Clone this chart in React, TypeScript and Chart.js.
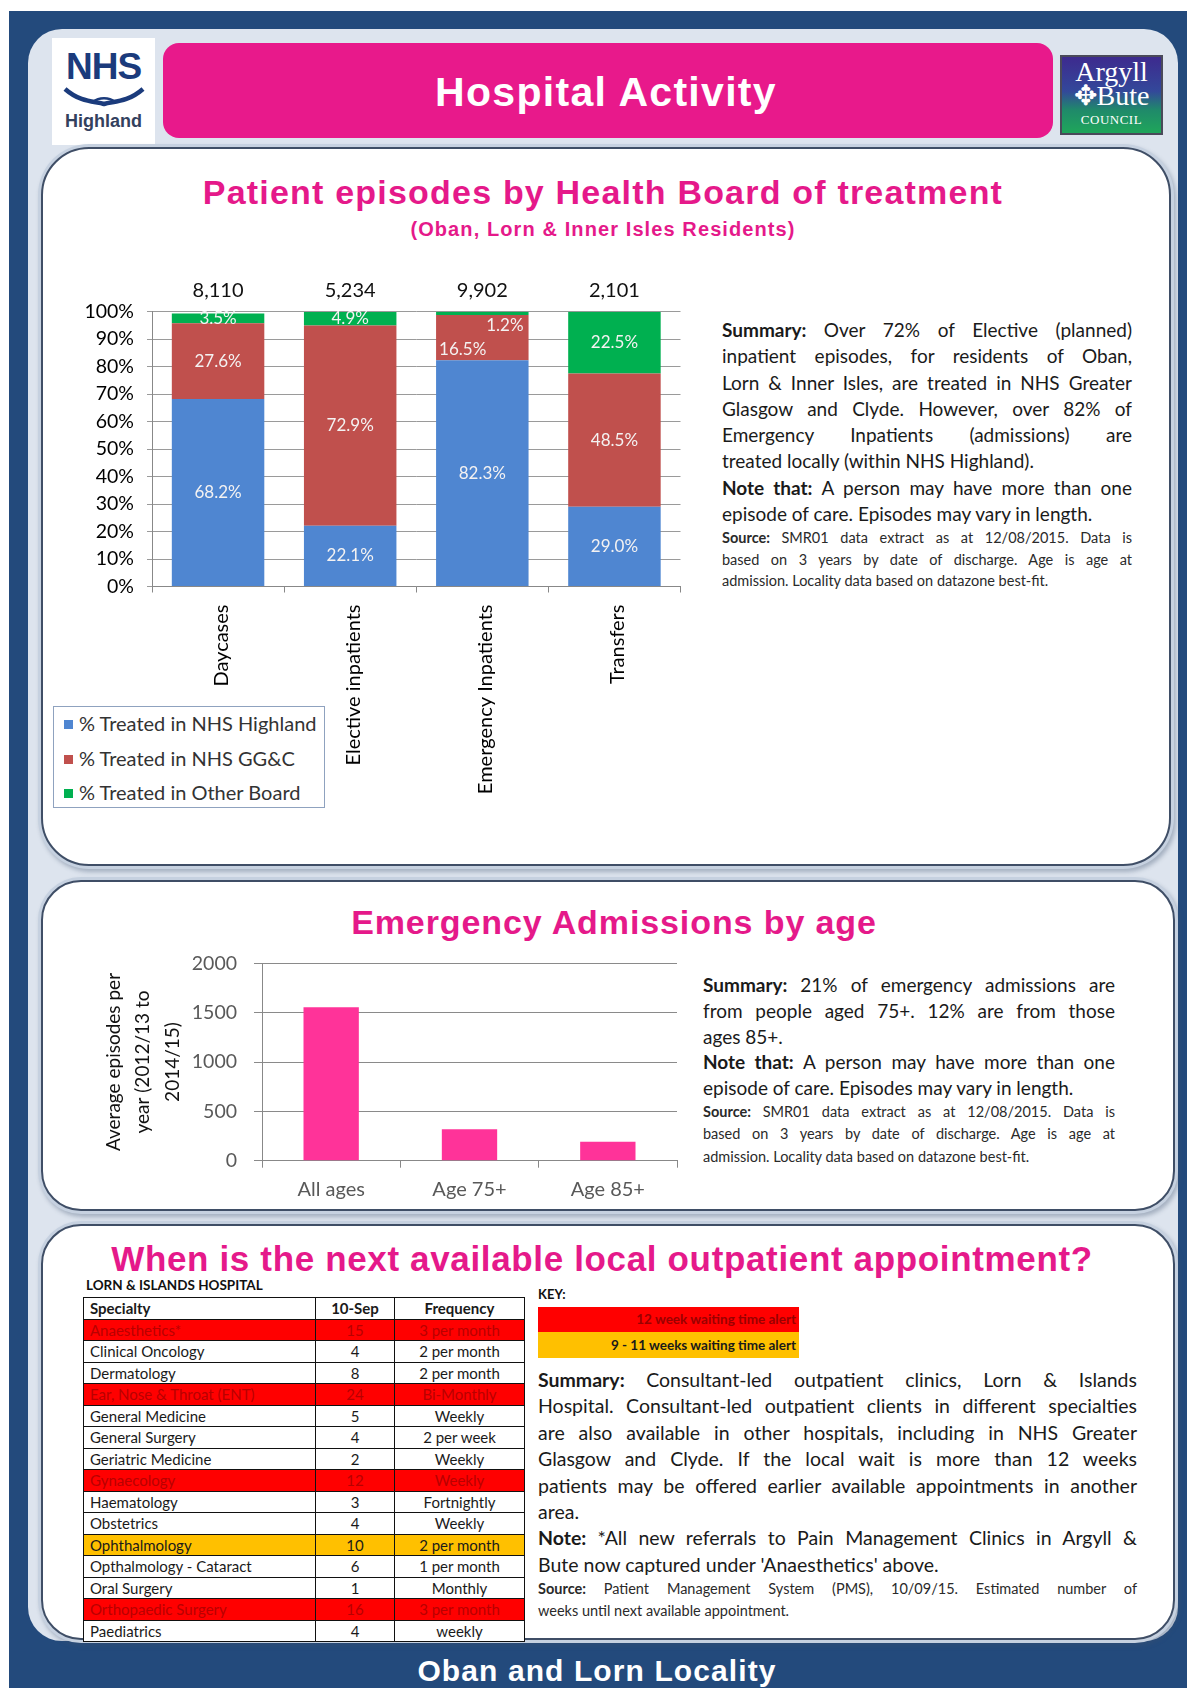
import React, { useEffect, useRef } from "react";
import { Chart, registerables } from "chart.js";

Chart.register(...registerables);

// ---------------- Data ----------------
const episodeCategories = ["Daycases", "Elective inpatients", "Emergency Inpatients", "Transfers"];
const episodeTotals = ["8,110", "5,234", "9,902", "2,101"];
const pctHighland = [68.2, 22.1, 82.3, 29.0];
const pctGGC = [27.6, 72.9, 16.5, 48.5];
const pctOtherBoard = [3.5, 4.9, 1.2, 22.5];
const episodeSeriesNames = ["% Treated in NHS Highland", "% Treated in NHS GG&C", "% Treated in Other Board"];
const pctTickStep = 10;

const ageCategories = ["All ages", "Age 75+", "Age 85+"];
const ageEpisodes = [1555, 318, 193];
const ageAxisTitle = ["Average episodes per", "year (2012/13 to", "2014/15)"];
const ageTickStep = 500;

const specialties = [
  "Anaesthetics*",
  "Clinical Oncology",
  "Dermatology",
  "Ear, Nose & Throat (ENT)",
  "General Medicine",
  "General Surgery",
  "Geriatric Medicine",
  "Gynaecology",
  "Haematology",
  "Obstetrics",
  "Ophthalmology",
  "Opthalmology - Cataract",
  "Oral Surgery",
  "Orthopaedic Surgery",
  "Paediatrics",
];
const weeksAt10Sep = [15, 4, 8, 24, 5, 4, 2, 12, 3, 4, 10, 6, 1, 16, 4];
const clinicFrequency = [
  "3 per month",
  "2 per month",
  "2 per month",
  "Bi-Monthly",
  "Weekly",
  "2 per week",
  "Weekly",
  "Weekly",
  "Fortnightly",
  "Weekly",
  "2 per month",
  "1 per month",
  "Monthly",
  "3 per month",
  "weekly",
];

// ---------------- Styles ----------------
const BODY = "Lato, 'Open Sans', 'DejaVu Sans', sans-serif";
const HEAD = "'Liberation Sans', Arial, Helvetica, sans-serif";
const SERIF = "'Liberation Serif', 'DejaVu Serif', serif";
const PINK = "#E5198A";
const NAVY = "#234A7C";
const BLUE = "#4F86D1";
const RED = "#C0504D";
const GREEN = "#00B050";
const BAR_PINK = "#FF3399";

const segmentLabelPlugin = {
  id: "segmentLabels",
  afterDatasetsDraw(chart: any) {
    const ctx = chart.ctx;
    ctx.save();
    ctx.font = `17px ${BODY}`;
    ctx.fillStyle = "#F4F2F2";
    ctx.textBaseline = "middle";
    const n = chart.data.datasets.length;
    chart.data.datasets.forEach((ds: any, di: number) => {
      const meta = chart.getDatasetMeta(di);
      meta.data.forEach((el: any, i: number) => {
        const v = ds.data[i];
        const { x, y, base, width } = el.getProps(["x", "y", "base", "width"], true);
        const h = Math.abs(base - y);
        let tx = x;
        let ty = (y + base) / 2;
        let align = "center";
        const next = di + 1 < n ? chart.data.datasets[di + 1].data[i] : null;
        if (h < 8) {
          align = "right";
          tx = x + width / 2 - 5;
          ty = base + 11;
        } else if (next != null && next < 2) {
          align = "left";
          tx = x - width / 2 + 3;
          ty += 12;
        }
        ctx.textAlign = align;
        ctx.fillText(v.toFixed(1) + "%", tx, ty);
      });
    });
    ctx.restore();
  },
};

const totalsPlugin = {
  id: "totals",
  afterDraw(chart: any) {
    const ctx = chart.ctx;
    const meta = chart.getDatasetMeta(0);
    ctx.save();
    ctx.font = `20px ${BODY}`;
    ctx.fillStyle = "#111";
    ctx.textAlign = "center";
    ctx.textBaseline = "middle";
    meta.data.forEach((el: any, i: number) => {
      ctx.fillText(episodeTotals[i], el.x, chart.chartArea.top - 21);
    });
    ctx.restore();
  },
};

function EpisodesChart() {
  const ref = useRef<HTMLCanvasElement | null>(null);
  useEffect(() => {
    if (!ref.current) return;
    const chart = new Chart(ref.current, {
      type: "bar",
      data: {
        labels: episodeCategories,
        datasets: [
          { label: episodeSeriesNames[0], data: pctHighland, backgroundColor: BLUE },
          { label: episodeSeriesNames[1], data: pctGGC, backgroundColor: RED },
          { label: episodeSeriesNames[2], data: pctOtherBoard, backgroundColor: GREEN },
        ],
      },
      options: {
        animation: false,
        responsive: false,
        layout: { padding: { top: 41.7, right: 19.5, left: 0, bottom: 0 } },
        datasets: { bar: { barPercentage: 0.7, categoryPercentage: 1 } } as any,
        plugins: { legend: { display: false }, tooltip: { enabled: false } },
        scales: {
          x: {
            stacked: true,
            ticks: {
              minRotation: 90,
              maxRotation: 90,
              color: "#000",
              padding: 12,
              labelOffset: 3,
              font: { family: BODY, size: 20 },
            },
            grid: { drawOnChartArea: false, offset: true, tickLength: 6, color: "#888" },
            border: { color: "#888" },
            afterFit: (s: any) => {
              s.height = 243.5;
            },
          } as any,
          y: {
            stacked: true,
            min: 0,
            max: 100,
            ticks: {
              stepSize: pctTickStep,
              callback: (v: any) => v + "%",
              color: "#000",
              padding: 13,
              font: { family: BODY, size: 19.5 },
            },
            grid: { color: "#9a9a9a", tickLength: 5 },
            border: { color: "#888" },
            afterFit: (s: any) => {
              s.width = 92;
            },
          } as any,
        },
      },
      plugins: [segmentLabelPlugin, totalsPlugin],
    });
    return () => chart.destroy();
  }, []);
  return (
    <canvas
      ref={ref}
      width={640}
      height={560}
      style={{ position: "absolute", left: 60, top: 270, width: 640, height: 560 }}
    />
  );
}

function AgeChart() {
  const ref = useRef<HTMLCanvasElement | null>(null);
  useEffect(() => {
    if (!ref.current) return;
    const chart = new Chart(ref.current, {
      type: "bar",
      data: {
        labels: ageCategories,
        datasets: [{ label: "Emergency admissions", data: ageEpisodes, backgroundColor: BAR_PINK }],
      },
      options: {
        animation: false,
        responsive: false,
        layout: { padding: { top: 18.3, right: 13, left: 0, bottom: 0 } },
        datasets: { bar: { barPercentage: 0.4, categoryPercentage: 1 } } as any,
        plugins: { legend: { display: false }, tooltip: { enabled: false } },
        scales: {
          x: {
            ticks: { color: "#595959", padding: 10, font: { family: BODY, size: 20 } },
            grid: { drawOnChartArea: false, offset: true, tickLength: 7, color: "#888" },
            border: { color: "#888" },
            afterFit: (s: any) => {
              s.height = 49.3;
            },
          } as any,
          y: {
            min: 0,
            max: 2000,
            ticks: {
              stepSize: ageTickStep,
              callback: (v: any) => String(v),
              color: "#595959",
              padding: 17,
              font: { family: BODY, size: 19.5 },
            },
            grid: { color: "#8a8a8a", tickLength: 8 },
            border: { color: "#888" },
            title: {
              display: true,
              text: ageAxisTitle,
              color: "#111",
              font: { family: BODY, size: 19, lineHeight: 1.55 },
              padding: { top: 19, bottom: 0 },
            },
            afterFit: (s: any) => {
              s.width = 182;
              s.paddingTop = 0;
              s.paddingBottom = 0;
            },
          } as any,
        },
      },
    });
    return () => chart.destroy();
  }, []);
  return (
    <canvas
      ref={ref}
      width={610}
      height={265}
      style={{ position: "absolute", left: 80, top: 945, width: 610, height: 265 }}
    />
  );
}

function Centered({ cx, cy, size, color, family, weight, children, spacing }: any) {
  return (
    <div
      style={{
        position: "absolute",
        left: cx - 600,
        width: 1200,
        top: cy - size * 0.6,
        height: size * 1.2,
        lineHeight: size * 1.2 + "px",
        fontSize: size,
        color,
        fontFamily: family || HEAD,
        fontWeight: weight || "bold",
        textAlign: "center",
        whiteSpace: "nowrap",
        letterSpacing: spacing || 0,
      }}
    >
      {children}
    </div>
  );
}

function JLine({ children, last, size, lh, color }: any) {
  return (
    <div
      style={{
        textAlign: last ? "left" : "justify",
        textAlignLast: last ? "left" : "justify",
        whiteSpace: "nowrap",
        fontSize: size,
        lineHeight: lh + "px",
        height: lh,
        color: color || "#1a1a1a",
      } as any}
    >
      {children}
    </div>
  );
}

function TextBlock({ left, top, width, main, source, mainSize, mainLh, srcSize, srcLh }: any) {
  return (
    <div style={{ position: "absolute", left, top, width, fontFamily: BODY }}>
      {main.map((l: any, i: number) => (
        <JLine key={"m" + i} last={l.last} size={mainSize} lh={mainLh}>
          {l.b ? <b>{l.b}</b> : null}
          {l.t}
        </JLine>
      ))}
      {source.map((l: any, i: number) => (
        <JLine key={"s" + i} last={l.last} size={srcSize} lh={srcLh} color="#2a2a2a">
          {l.b ? <b>{l.b}</b> : null}
          {l.t}
        </JLine>
      ))}
    </div>
  );
}

function Panel({ left, top, width, height, radius }: any) {
  return (
    <div
      style={{
        position: "absolute",
        left,
        top,
        width,
        height,
        boxSizing: "border-box",
        background: "#fff",
        border: "2px solid #3f4e66",
        borderRadius: radius,
        boxShadow: "0 0 0 3px #c6d1e0, 2px 3px 4px 3px rgba(60,80,110,0.35)",
      }}
    />
  );
}

function LegendBox() {
  const colors = [BLUE, RED, GREEN];
  return (
    <div
      style={{
        position: "absolute",
        left: 53,
        top: 706,
        width: 272,
        height: 102,
        boxSizing: "border-box",
        border: "1.5px solid #8fa2bf",
        background: "#fff",
        fontFamily: BODY,
        fontSize: 20,
        color: "#333",
      }}
    >
      {episodeSeriesNames.map((n, i) => (
        <div
          key={n}
          style={{
            position: "absolute",
            left: 10,
            top: 5 + i * 34.5,
            height: 22,
            lineHeight: "22px",
            whiteSpace: "nowrap",
          }}
        >
          <span
            style={{
              display: "inline-block",
              width: 9,
              height: 9,
              background: colors[i],
              marginRight: 6,
              verticalAlign: "middle",
              position: "relative",
              top: -1,
            }}
          />
          {n}
        </div>
      ))}
    </div>
  );
}

function AppointmentTable() {
  const cell = (extra: any) => ({
    border: "1.5px solid #111",
    padding: "0 6px",
    height: 20.5,
    lineHeight: "18px",
    overflow: "hidden",
    whiteSpace: "nowrap" as const,
    ...extra,
  });
  return (
    <table
      style={{
        position: "absolute",
        left: 83,
        top: 1297,
        width: 441,
        borderCollapse: "collapse",
        tableLayout: "fixed",
        fontFamily: BODY,
        fontSize: 15,
        color: "#1a1a1a",
      }}
    >
      <colgroup>
        <col style={{ width: 232 }} />
        <col style={{ width: 79 }} />
        <col style={{ width: 130 }} />
      </colgroup>
      <tbody>
        <tr>
          <td style={cell({ fontWeight: "bold" })}>Specialty</td>
          <td style={cell({ fontWeight: "bold", textAlign: "center" })}>10-Sep</td>
          <td style={cell({ fontWeight: "bold", textAlign: "center" })}>Frequency</td>
        </tr>
        {specialties.map((s, i) => {
          const w = weeksAt10Sep[i];
          const bg = w >= 12 ? "#FF0000" : w >= 9 ? "#FFC000" : "#fff";
          const fg = w >= 12 ? "#B80000" : "#1a1a1a";
          return (
            <tr key={s}>
              <td style={cell({ background: bg, color: fg })}>{s}</td>
              <td style={cell({ background: bg, color: fg, textAlign: "center" })}>{w}</td>
              <td style={cell({ background: bg, color: fg, textAlign: "center" })}>{clinicFrequency[i]}</td>
            </tr>
          );
        })}
      </tbody>
    </table>
  );
}

function NhsLogo() {
  return (
    <div
      style={{
        position: "absolute",
        left: 52,
        top: 38,
        width: 103,
        height: 107,
        background: "#fff",
        textAlign: "center",
      }}
    >
      <div
        style={{
          position: "absolute",
          left: 0,
          width: 103,
          top: 10,
          fontFamily: HEAD,
          fontWeight: "bold",
          fontSize: 37,
          lineHeight: "38px",
          color: "#1B3B7C",
          letterSpacing: -1,
        }}
      >
        NHS
      </div>
      <svg style={{ position: "absolute", left: 11, top: 48 }} width={82} height={22}>
        <path
          d="M2 3 C 18 17, 32 15, 41 18 C 50 15, 64 17, 80 3"
          stroke="#1B3B7C"
          strokeWidth={4.5}
          fill="none"
        />
        <path d="M30 16 C 36 11, 46 11, 52 16" stroke="#1B3B7C" strokeWidth={2.5} fill="none" />
      </svg>
      <div
        style={{
          position: "absolute",
          left: 0,
          width: 103,
          top: 73,
          fontFamily: HEAD,
          fontWeight: "bold",
          fontSize: 18,
          lineHeight: "20px",
          color: "#33415e",
        }}
      >
        Highland
      </div>
    </div>
  );
}

function ArgyllLogo() {
  return (
    <div
      style={{
        position: "absolute",
        left: 1060,
        top: 55,
        width: 103,
        height: 80,
        boxSizing: "border-box",
        border: "2px solid #4a4a5a",
        background: "linear-gradient(180deg, #3d2a8e 0%, #33489a 45%, #1f8a6a 70%, #1fa65a 100%)",
        color: "#fff",
        fontFamily: SERIF,
        textAlign: "center",
        overflow: "hidden",
      }}
    >
      <div style={{ position: "absolute", left: 0, width: 99, top: 1, fontSize: 28, lineHeight: "28px" }}>Argyll</div>
      <div style={{ position: "absolute", left: 0, width: 99, top: 25, fontSize: 28, lineHeight: "28px" }}>
        ✥Bute
      </div>
      <div style={{ position: "absolute", left: 0, width: 99, top: 55, fontSize: 13, lineHeight: "16px", letterSpacing: 0.5 }}>
        COUNCIL
      </div>
    </div>
  );
}

const summary1Main = [
  { b: "Summary: ", t: "Over 72% of Elective (planned)" },
  { t: "inpatient episodes, for residents of Oban," },
  { t: "Lorn & Inner Isles, are treated in NHS Greater" },
  { t: "Glasgow and Clyde. However, over 82% of" },
  { t: "Emergency Inpatients (admissions) are" },
  { t: "treated locally (within NHS Highland).", last: true },
  { b: "Note that: ", t: "A person may have more than one" },
  { t: "episode of care. Episodes may vary in length.", last: true },
];
const summary1Source = [
  { b: "Source: ", t: " SMR01 data extract as at 12/08/2015. Data is" },
  { t: "based on 3 years by date of discharge. Age is age at" },
  { t: "admission. Locality data based on datazone best-fit.", last: true },
];
const summary2Main = [
  { b: "Summary: ", t: "21% of emergency admissions are" },
  { t: "from people aged 75+. 12% are from those" },
  { t: "ages 85+.", last: true },
  { b: "Note that: ", t: "A person may have more than one" },
  { t: "episode of care. Episodes may vary in length.", last: true },
];
const summary3Main = [
  { b: "Summary: ", t: " Consultant-led outpatient clinics, Lorn & Islands" },
  { t: "Hospital. Consultant-led outpatient clients  in different specialties" },
  { t: "are also available in other hospitals,  including in NHS Greater" },
  { t: "Glasgow and Clyde. If the local wait is more than 12 weeks" },
  { t: "patients may be offered earlier available appointments in another" },
  { t: "area.", last: true },
  { b: "Note: ", t: "*All new referrals to Pain Management Clinics in Argyll &" },
  { t: "Bute now captured under 'Anaesthetics' above.", last: true },
];
const summary3Source = [
  { b: "Source: ", t: "Patient Management System (PMS), 10/09/15. Estimated number of" },
  { t: "weeks until next available appointment.", last: true },
];

export default function App() {
  return (
    <div
      style={{
        position: "absolute",
        left: 0,
        top: 0,
        width: 1187,
        height: 1688,
        overflow: "hidden",
        background: "#fff",
      }}
    >
      {/* navy frame */}
      <div style={{ position: "absolute", left: 9, top: 11, width: 1178, height: 1677, background: NAVY }} />
      {/* light inner area */}
      <div
        style={{
          position: "absolute",
          left: 28,
          top: 29,
          width: 1150,
          height: 1612,
          background: "#DDE4EE",
          borderRadius: 34,
        }}
      />

      {/* header */}
      <NhsLogo />
      <div
        style={{
          position: "absolute",
          left: 163,
          top: 43,
          width: 890,
          height: 95,
          background: "#E8198B",
          borderRadius: 16,
        }}
      />
      <Centered cx={606} cy={93} size={41} color="#fff" spacing={1.3}>
        Hospital Activity
      </Centered>
      <ArgyllLogo />

      {/* panels */}
      <Panel left={41} top={147} width={1130} height={719} radius={48} />
      <Panel left={41} top={880} width={1134} height={331} radius={40} />
      <Panel left={41} top={1224} width={1134} height={416} radius={40} />

      {/* Panel 1 */}
      <Centered cx={603} cy={192} size={34} color={PINK} spacing={1.2}>
        Patient episodes by Health Board of treatment
      </Centered>
      <Centered cx={603} cy={229} size={20} color={PINK} spacing={1.1}>
        (Oban, Lorn &amp; Inner Isles Residents)
      </Centered>
      <EpisodesChart />
      <LegendBox />
      <TextBlock
        left={722}
        top={317}
        width={410}
        main={summary1Main}
        source={summary1Source}
        mainSize={19}
        mainLh={26.3}
        srcSize={14.5}
        srcLh={21.5}
      />

      {/* Panel 2 */}
      <Centered cx={614} cy={922} size={34} color={PINK} spacing={0.9}>
        Emergency Admissions by age
      </Centered>
      <AgeChart />
      <TextBlock
        left={703}
        top={972}
        width={412}
        main={summary2Main}
        source={summary1Source}
        mainSize={19}
        mainLh={25.8}
        srcSize={14.5}
        srcLh={22.5}
      />

      {/* Panel 3 */}
      <Centered cx={602} cy={1259} size={35} color={PINK} spacing={0.65}>
        When is the next available local outpatient appointment?
      </Centered>
      <div
        style={{
          position: "absolute",
          left: 86,
          top: 1277,
          fontFamily: BODY,
          fontWeight: "bold",
          fontSize: 13.5,
          lineHeight: "16px",
          color: "#111",
          whiteSpace: "nowrap",
        }}
      >
        LORN &amp; ISLANDS HOSPITAL
      </div>
      <AppointmentTable />
      <div
        style={{
          position: "absolute",
          left: 538,
          top: 1286,
          fontFamily: BODY,
          fontWeight: "bold",
          fontSize: 13,
          lineHeight: "16px",
          color: "#111",
        }}
      >
        KEY:
      </div>
      <div
        style={{
          position: "absolute",
          left: 538,
          top: 1307,
          width: 261,
          height: 25,
          background: "#FF0000",
          color: "#9A0000",
          fontFamily: BODY,
          fontWeight: "bold",
          fontSize: 13.5,
          lineHeight: "25px",
          textAlign: "right",
          paddingRight: 3,
          boxSizing: "border-box",
          whiteSpace: "nowrap",
        }}
      >
        12 week waiting time alert
      </div>
      <div
        style={{
          position: "absolute",
          left: 538,
          top: 1332,
          width: 261,
          height: 26,
          background: "#FFC000",
          color: "#1a1a1a",
          fontFamily: BODY,
          fontWeight: "bold",
          fontSize: 13.5,
          lineHeight: "26px",
          textAlign: "right",
          paddingRight: 3,
          boxSizing: "border-box",
          whiteSpace: "nowrap",
        }}
      >
        9 - 11 weeks waiting time alert
      </div>
      <TextBlock
        left={538}
        top={1367}
        width={599}
        main={summary3Main}
        source={summary3Source}
        mainSize={19.5}
        mainLh={26.4}
        srcSize={14.5}
        srcLh={22}
      />

      {/* footer */}
      <Centered cx={597} cy={1671} size={30} color="#fff" spacing={1.1}>
        Oban and Lorn Locality
      </Centered>
    </div>
  );
}
